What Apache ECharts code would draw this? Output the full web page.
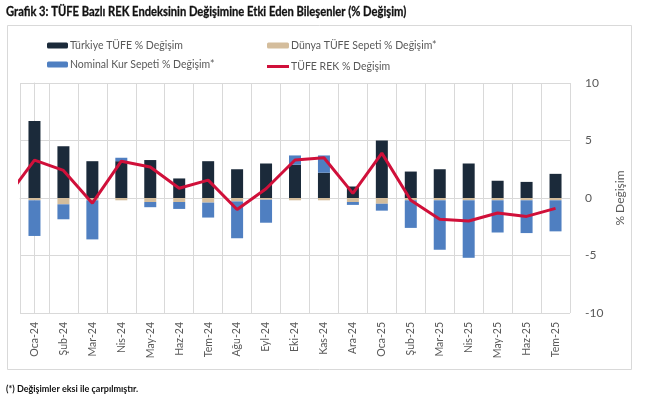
<!DOCTYPE html>
<html><head><meta charset="utf-8">
<script src="https://cdn.jsdelivr.net/npm/echarts@6/dist/echarts.min.js"></script>
<style>html,body{margin:0;padding:0;background:#fff}#c{width:653px;height:399px}</style>
</head><body><div id="c"></div>
<script>
const categories = ['Oca-24','Şub-24','Mar-24','Nis-24','May-24','Haz-24','Tem-24','Ağu-24','Eyl-24','Eki-24','Kas-24','Ara-24','Oca-25','Şub-25','Mar-25','Nis-25','May-25','Haz-25','Tem-25'];
const turkiyeTufe = [6.7, 4.5, 3.2, 3.2, 3.3, 1.7, 3.2, 2.5, 3.0, 2.9, 2.2, 1.0, 5.0, 2.3, 2.5, 3.0, 1.5, 1.4, 2.1];
const dunyaTufe   = [-0.2, -0.55, -0.2, -0.2, -0.35, -0.35, -0.4, -0.3, -0.15, -0.2, -0.2, -0.35, -0.5, -0.2, -0.2, -0.2, -0.2, -0.2, -0.2];
const nominalKur  = [-3.1, -1.3, -3.4, 0.3, -0.45, -0.6, -1.3, -3.2, -2.0, 0.8, 1.5, -0.25, -0.6, -2.4, -4.3, -5.0, -2.8, -2.85, -2.7];
// TÜFE REK: first value belongs to Ara-23 (partly visible at the left edge)
const rekIndex  = [-1, 0, 1, 2, 3, 4, 5, 6, 7, 8, 9, 10, 11, 12, 13, 14, 15, 16, 17, 18];
const tufeRek   = [-0.1, 3.3, 2.4, -0.45, 3.2, 2.7, 0.85, 1.55, -1.0, 0.8, 3.3, 3.5, 0.4, 3.9, -0.2, -1.85, -2.0, -1.3, -1.6, -0.9];
const yTicks = [-10, -5, 0, 5, 10];

const names = ['Türkiye TÜFE % Değişim','Dünya TÜFE Sepeti % Değişim*','Nominal Kur Sepeti % Değişim*','TÜFE REK % Değişim'];
const FONT = 'Lato, Roboto, sans-serif';
const legendText = {fontSize:10.5,color:'#595959',fontFamily:FONT,padding:[0,0,0,-3]};
const chart = echarts.init(document.getElementById('c'));
chart.setOption({
  animation:false,
  backgroundColor:'#fff',
  graphic:[
    {type:'rect',shape:{x:7.5,y:25.5,width:624,height:344},style:{fill:null,stroke:'#d9d9d9',lineWidth:1},silent:true,z:-1},
    {type:'text',x:6,y:12,scaleX:0.86,style:{text:'Grafik 3: TÜFE Bazlı REK Endeksinin Değişimine Etki Eden Bileşenler (% Değişim)',
      fontSize:13,fontWeight:'bold',fill:'#111',fontFamily:FONT,verticalAlign:'middle',stroke:'#111',lineWidth:0.3}},
    {type:'text',x:6,y:389,scaleX:0.9,style:{text:'(*) Değişimler eksi ile çarpılmıştır.',fontSize:10,fontWeight:'bold',fill:'#111',fontFamily:FONT,verticalAlign:'middle'}}
  ],
  legend:[
    {data:[names[0],names[2]],orient:'vertical',left:42,top:35,itemWidth:21,itemHeight:6,itemGap:8,textStyle:legendText},
    {data:[names[1]],orient:'vertical',left:262,top:35,itemWidth:22,itemHeight:6,textStyle:legendText},
    {data:[{name:names[3],icon:'rect'}],orient:'vertical',left:262,top:56,itemWidth:22,itemHeight:3,textStyle:legendText}
  ],
  grid:{left:20,right:83,top:83,bottom:86,containLabel:false,show:false},
  xAxis:[
    {type:'category',data:categories,boundaryGap:true,
      axisLine:{show:true,lineStyle:{color:'#d9d9d9'}},axisTick:{show:false},
      splitLine:{show:true,interval:0,lineStyle:{color:'#d9d9d9',width:1}},
      axisLabel:{rotate:90,interval:0,margin:9,fontSize:10.5,color:'#595959',fontFamily:FONT}},
    {type:'value',min:-0.5,max:18.5,show:false}
  ],
  yAxis:{type:'value',position:'right',min:yTicks[0],max:yTicks[yTicks.length-1],interval:5,
    name:'% Değişim',nameLocation:'middle',nameRotate:90,nameGap:40,
    nameTextStyle:{fontSize:12,color:'#595959',fontFamily:FONT},
    axisLine:{show:true,lineStyle:{color:'#d9d9d9'}},axisTick:{show:false},
    splitLine:{show:true,lineStyle:{color:'#d9d9d9'}},
    axisLabel:{margin:15,fontSize:12,color:'#595959',fontFamily:FONT}},
  series:[
    {name:names[0],type:'bar',stack:'s',data:turkiyeTufe,barWidth:12,itemStyle:{color:'#1b2a3a'}},
    {name:names[1],type:'bar',stack:'s',data:dunyaTufe,barWidth:12,itemStyle:{color:'#d4bd9c'}},
    {name:names[2],type:'bar',stack:'s',data:nominalKur,barWidth:12,itemStyle:{color:'#4f7fc1'}},
    {name:names[3],type:'line',xAxisIndex:1,data:rekIndex.map((x,i)=>[x,tufeRek[i]]),clip:true,
      symbol:'none',showSymbol:false,lineStyle:{color:'#d0103a',width:3},itemStyle:{color:'#d0103a'},z:5}
  ]
});
</script></body></html>
